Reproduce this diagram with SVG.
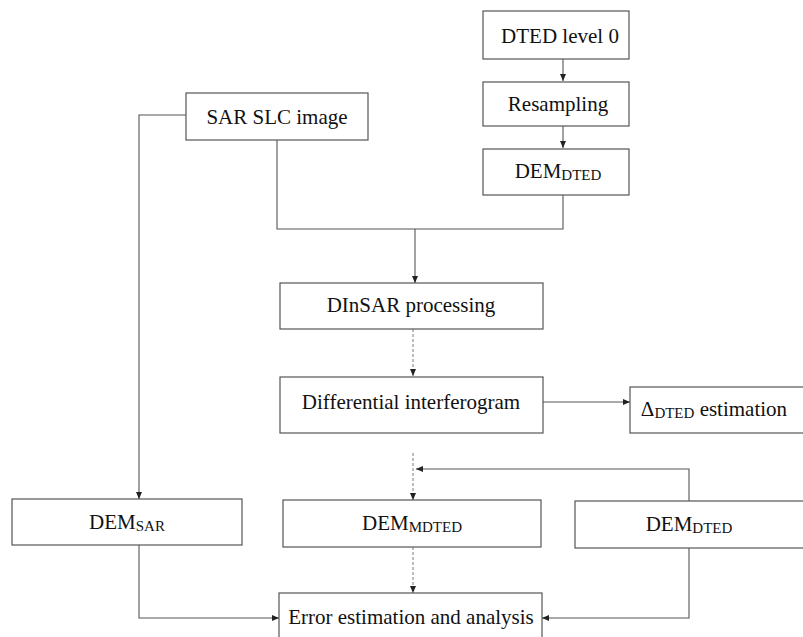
<svg xmlns="http://www.w3.org/2000/svg" width="803" height="637" viewBox="0 0 803 637">
<style>
  .box { fill: #ffffff; stroke: #555; stroke-width: 1.2; }
  .t { font-family: "Liberation Serif", "Times New Roman", serif; font-size: 21px; fill: #111; text-anchor: middle; }
  .sub { font-size: 15px; }
  .c { fill: none; stroke: #555; stroke-width: 1.1; }
  .d { stroke-dasharray: 3 2; stroke: #888; }
</style>
<defs>
  <marker id="ah" markerWidth="8" markerHeight="8" refX="7" refY="4" orient="auto" markerUnits="userSpaceOnUse">
    <path d="M0,1 L7,4 L0,7 Z" fill="#222"/>
  </marker>
</defs>
<rect width="803" height="637" fill="#ffffff"/>

<g id="connectors">
  <path class="c" d="M563,59 V81" marker-end="url(#ah)"/>
  <path class="c" d="M563,126 V148" marker-end="url(#ah)"/>
  <path class="c" d="M186,115 H139 V499" marker-end="url(#ah)"/>
  <path class="c" d="M277,140 V229 H563 V195"/>
  <path class="c" d="M415,229 V283" marker-end="url(#ah)"/>
  <path class="c d" d="M413,329 V376" marker-end="url(#ah)"/>
  <path class="c" d="M543,402 H630" marker-end="url(#ah)"/>
  <path class="c d" d="M413,453 V500" marker-end="url(#ah)"/>
  <path class="c" d="M689,501 V469 H416" marker-end="url(#ah)"/>
  <path class="c d" d="M413,547 V593" marker-end="url(#ah)"/>
  <path class="c" d="M139,545 V618 H279" marker-end="url(#ah)"/>
  <path class="c" d="M689,548 V618 H542" marker-end="url(#ah)"/>
</g>

<g id="dted-level0">
  <rect class="box" x="483" y="11" width="146" height="48"/>
  <text class="t" x="560" y="43">DTED level 0</text>
</g>
<g id="resampling">
  <rect class="box" x="483" y="82" width="146" height="44"/>
  <text class="t" x="558" y="111">Resampling</text>
</g>
<g id="dem-dted-top">
  <rect class="box" x="483" y="149" width="146" height="46"/>
  <text class="t" x="558" y="178">DEM<tspan class="sub" dy="2">DTED</tspan></text>
</g>
<g id="sar-slc">
  <rect class="box" x="186" y="93" width="182" height="47"/>
  <text class="t" x="277" y="124">SAR SLC image</text>
</g>
<g id="dinsar">
  <rect class="box" x="280" y="283" width="263" height="46"/>
  <text class="t" x="411" y="312">DInSAR processing</text>
</g>
<g id="diff-interferogram">
  <rect class="box" x="280" y="377" width="263" height="56"/>
  <text class="t" x="411" y="409">Differential interferogram</text>
</g>
<g id="delta-dted">
  <rect class="box" x="630" y="387" width="175" height="46"/>
  <text class="t" x="714" y="416">Δ<tspan class="sub" dy="2">DTED</tspan><tspan dy="-2"> estimation</tspan></text>
</g>
<g id="dem-sar">
  <rect class="box" x="12" y="499" width="230" height="46"/>
  <text class="t" x="127" y="529">DEM<tspan class="sub" dy="2">SAR</tspan></text>
</g>
<g id="dem-mdted">
  <rect class="box" x="283" y="500" width="258" height="47"/>
  <text class="t" x="412" y="530">DEM<tspan class="sub" dy="2">MDTED</tspan></text>
</g>
<g id="dem-dted-right">
  <rect class="box" x="575" y="501" width="232" height="47"/>
  <text class="t" x="689" y="531">DEM<tspan class="sub" dy="2">DTED</tspan></text>
</g>
<g id="error-estimation">
  <rect class="box" x="279" y="593" width="263" height="50"/>
  <text class="t" x="411" y="624">Error estimation and analysis</text>
</g>
</svg>
